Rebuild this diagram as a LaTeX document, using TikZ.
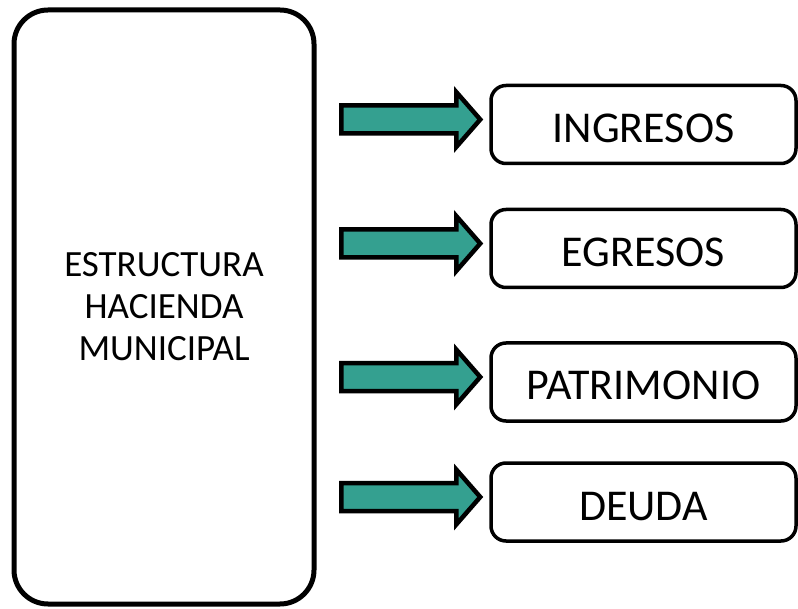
\documentclass[tikz,border=0pt]{standalone}
\usepackage{fontspec}
\setmainfont{Carlito}
\definecolor{tealfill}{RGB}{52,160,144}

\begin{document}
\begin{tikzpicture}[x=0.5pt, y=-0.5pt,
  bigbox/.style={draw, line width=2.5pt, rounded corners=17pt,
    minimum width=150pt, minimum height=297pt, align=center,
    font=\fontsize{18.5}{21}\selectfont},
  itembox/.style={draw, line width=1.75pt, rounded corners=7.5pt,
    minimum width=152.5pt, minimum height=39pt, text height=18pt, text depth=0pt,
    font=\fontsize{22}{26}\selectfont},
  blockarrow/.style={draw, fill=tealfill, line width=2.25pt, line join=miter}]
      \useasboundingbox (0,0) rectangle (798,609);

      \node[bigbox] (hacienda) at (164,307) {ESTRUCTURA\\HACIENDA\\MUNICIPAL};

      \node[itembox] (ingresos) at (643.5,124.5) {INGRESOS};
      \node[itembox] (egresos) at (643.5,248.5) {EGRESOS};
      \node[itembox] (patrimonio) at (643.5,382) {PATRIMONIO};
      \node[itembox] (deuda) at (643.5,502) {DEUDA};

      % block arrows in front of each box
      \foreach \n in {ingresos,egresos,patrimonio,deuda}
        \draw[blockarrow, shift={(\n.west)}] (-148,-19) -- (-33,-19) -- (-33,-32.5)
          -- (-9,-5) -- (-33,22.5) -- (-33,9) -- (-148,9) -- cycle;
\end{tikzpicture}
\end{document}
